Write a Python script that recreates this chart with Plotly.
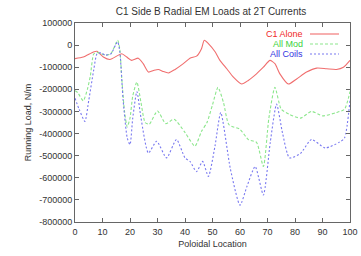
import plotly.graph_objects as go

# C1 Alone (red)
x_red = [0, 3, 6.7, 8, 10.3, 12.7, 17, 18.8, 20.6, 23, 24.8, 26.7, 28.5, 30.3, 32, 34, 36.4, 39.4, 41.8, 44.2, 46, 47, 48.5, 51, 52.7, 55.2, 57.6, 60.6, 63, 66, 68.5, 70.9, 72.7, 74.5, 77.6, 80.6, 84.2, 87.9, 91.5, 95.1, 97.6, 100]
y_red = [-61000, -54000, -31000, -28000, -54000, -65000, -39000, -54000, -69000, -59000, -84000, -122000, -115000, -110000, -119000, -126000, -110000, -84000, -59000, -50000, -16000, 22000, 7000, -31000, -69000, -107000, -145000, -176000, -160000, -130000, -100000, -69000, -84000, -130000, -176000, -153000, -122000, -104000, -107000, -110000, -100000, -69000]

# All Mod (green)
x_mod = [0, 1, 3, 4.5, 5.6, 6.8, 8, 9.5, 11, 13, 15.5, 16.3, 17, 18, 19, 20, 21, 22.5, 24, 25.5, 27, 30, 33, 36, 40, 43.6, 46, 48, 50, 52, 54, 56, 60, 63, 66, 68.5, 70.5, 72.7, 75, 78, 82, 86, 90, 95, 98, 100]
y_mod = [-206000, -215000, -252000, -200000, -138000, -40000, -33000, -40000, -45000, -40000, 22000, -20000, -150000, -300000, -370000, -330000, -230000, -167000, -260000, -350000, -358000, -298000, -355000, -335000, -395000, -457000, -390000, -350000, -270000, -191000, -260000, -360000, -381000, -427000, -440000, -549000, -330000, -191000, -290000, -313000, -330000, -300000, -320000, -305000, -290000, -210000]

# All Coils (blue)
x_coils = [0, 1.5, 3.6, 5, 6.8, 8, 9.5, 11, 13, 15.5, 16.3, 17.5, 19, 20, 21, 22.5, 24, 26.7, 29.7, 33.3, 36.9, 40, 41.8, 44.2, 46.4, 48.5, 50.9, 53, 56.5, 60, 62.5, 65.5, 68.5, 71, 73.3, 75.5, 78, 82, 86, 91, 96, 98, 100]
y_coils = [-240000, -290000, -345000, -250000, -113000, -40000, -35000, -45000, -40000, 15000, -30000, -250000, -420000, -450000, -330000, -210000, -330000, -488000, -435000, -510000, -427000, -510000, -526000, -572000, -526000, -594000, -457000, -305000, -560000, -724000, -640000, -549000, -678000, -440000, -267000, -400000, -510000, -490000, -427000, -465000, -440000, -420000, -250000]

x_ticks = list(range(0, 101, 10))
y_ticks = list(range(-800000, 100001, 100000))
y_tick_labels = [str(v) for v in y_ticks]

legend_names = ["C1 Alone", "All Mod", "All Coils"]
colors = ["rgb(240,110,110)", "rgb(140,230,140)", "rgb(120,120,240)"]
text_colors = ["rgb(240,40,40)", "rgb(60,210,60)", "rgb(50,50,225)"]
dashes = ["solid", "3px,2px", "2px,2px"]

fig = go.Figure()
series = [(x_red, y_red), (x_mod, y_mod), (x_coils, y_coils)]
for (xs, ys), name, c, d in zip(series, legend_names, colors, dashes):
    fig.add_trace(go.Scatter(x=xs, y=ys, mode="lines", name=name,
                             line=dict(color=c, width=1.1, dash=d, shape="spline", smoothing=0.6),
                             showlegend=False))

# gnuplot-style legend: text right-aligned, sample to its right
W, H = 361, 256
ml, mr, mt, mb = 75, 11, 23, 34
pw, ph = W - ml - mr, H - mt - mb
def px_to_paper(xp, yp):
    return (xp - ml) / pw, 1 - (yp - mt) / ph

for i, (name, tc, c, d) in enumerate(zip(legend_names, text_colors, colors, dashes)):
    yp = 34 + i * 10
    ax, ay = px_to_paper(305, yp)
    fig.add_annotation(x=ax, y=ay, xref="paper", yref="paper", text=name,
                       showarrow=False, xanchor="right", yanchor="middle",
                       font=dict(color=tc, size=9, family="Liberation Sans, Arial"))
    x0, y0 = px_to_paper(310, yp)
    x1, _ = px_to_paper(339, yp)
    fig.add_shape(type="line", xref="paper", yref="paper", x0=x0, x1=x1, y0=y0, y1=y0,
                  line=dict(color=c, width=1.1, dash=d))

axis_common = dict(showline=True, linecolor="#666", linewidth=1, mirror="allticks",
                   ticks="inside", ticklen=4, tickcolor="#666", showgrid=False, zeroline=False,
                   automargin=False,
                   tickfont=dict(size=9, color="#333", family="Liberation Sans, Arial"))

fig.update_layout(
    width=W, height=H,
    margin=dict(l=ml, r=mr, t=mt, b=mb),
    paper_bgcolor="white", plot_bgcolor="white",
    title=dict(text="C1 Side B Radial EM Loads at 2T Currents", x=(211) / W, xanchor="center",
               y=1 - 11 / H, yanchor="middle",
               font=dict(size=10, color="#333", family="Liberation Sans, Arial")),
    xaxis=dict(range=[0, 100], tickvals=x_ticks, ticklabelstandoff=1,
               title=dict(text="Poloidal Location", standoff=4,
                          font=dict(size=9, color="#333", family="Liberation Sans, Arial")),
               **axis_common),
    yaxis=dict(range=[-800000, 100000], tickvals=y_ticks, ticktext=y_tick_labels,
               title=dict(text="Running Load, N/m", standoff=6,
                          font=dict(size=9, color="#333", family="Liberation Sans, Arial")),
               **axis_common),
)

fig.write_html("out.html", config={"displayModeBar": False},
               post_script="document.body.style.margin='0';")
